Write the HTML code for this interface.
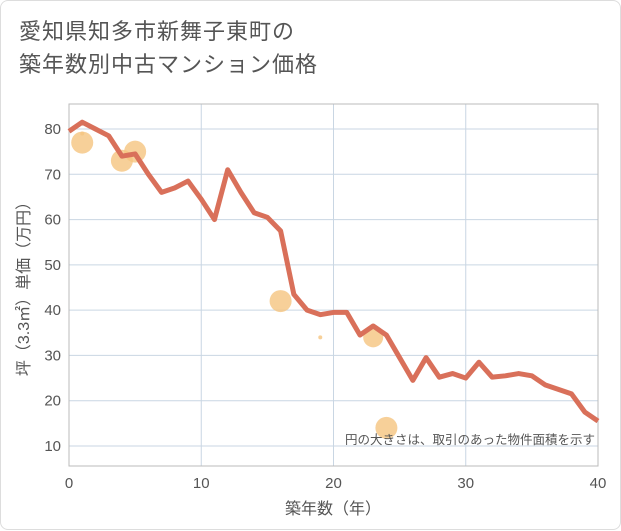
<!DOCTYPE html>
<html><head><meta charset="utf-8"><style>
body{margin:0;background:#fff;font-family:"Liberation Sans","Noto Sans CJK JP",sans-serif}
#card{position:absolute;left:0;top:0;width:619px;height:528px;border:1px solid #ddd;border-radius:8px;background:#fff}
#title{position:absolute;left:18px;top:14px;font-size:22px;line-height:33px;color:#555;letter-spacing:1px}
</style></head><body>
<div id="card">
<div id="title">愛知県知多市新舞子東町の<br>築年数別中古マンション価格</div>
<svg id="chart" width="621" height="530" style="position:absolute;left:0;top:0"></svg>
</div>
<script>
const xTicks=[0,10,20,30,40];
const yTicks=[10,20,30,40,50,60,70,80];
const lineYears=[0,1,2,3,4,5,6,7,8,9,10,11,12,13,14,15,16,17,18,19,20,21,22,23,24,25,26,27,28,29,30,31,32,33,34,35,36,37,38,39,40];
const linePrices=[79.5,81.5,80,78.5,74,74.5,70,66,67,68.5,64.5,60,71,66,61.5,60.5,57.5,43.5,40,39,39.5,39.5,34.5,36.5,34.5,29.5,24.5,29.5,25.2,26,25,28.5,25.2,25.5,26,25.5,23.5,22.5,21.5,17.5,15.5];
const bubbleYears=[1,1,4,5,16,19,23,24];
const bubblePrices=[77,79,73,75,42,34,34,14];
const bubbleSizes=[11,2,11,11,11,2,10,11];
const L=68,R=597,T=103,B=465;
const xs=v=>L+(v-0)/40*(R-L);
const ys=v=>445-(v-10)/70*(445-128);
const svg=document.getElementById('chart');const NS='http://www.w3.org/2000/svg';
function mk(t,a,p){const e=document.createElementNS(NS,t);for(const k in a)e.setAttribute(k,a[k]);(p||svg).appendChild(e);return e;}
let e;
e=mk('rect',{x:L,y:T,width:R-L,height:B-T,fill:'#fff',stroke:'#bbb'});


xTicks.forEach(v=>{
 e=mk('line',{x1:xs(v),x2:xs(v),y1:T,y2:B,stroke:'#c9d6e3'});
 
 
 e=mk('text',{x:xs(v),y:B+22,'text-anchor':'middle','font-size':15,fill:'#555'});e.textContent=v;
 
 
});
yTicks.forEach(v=>{
 e=mk('line',{x1:L,x2:R,y1:ys(v),y2:ys(v),stroke:'#c9d6e3'});
 
 
 e=mk('text',{x:L-8,y:ys(v)+5,'text-anchor':'end','font-size':15,fill:'#555'});e.textContent=v;
 
 
});
mk('rect',{x:L,y:T,width:R-L,height:B-T,fill:'none',stroke:'#bbb'});
bubbleYears.forEach((yr,i)=>{
 e=mk('circle',{cx:xs(yr),cy:ys(bubblePrices[i]),r:bubbleSizes[i],fill:'#f5c47f','fill-opacity':0.8});
 
 
});
e=mk('polyline',{points:lineYears.map((y,i)=>xs(y)+','+ys(linePrices[i])).join(' '),fill:'none',stroke:'#d9705a','stroke-width':5,'stroke-linejoin':'round'});


e=mk('text',{x:594,y:443,'text-anchor':'end','font-size':12.5,fill:'#555'});e.textContent='円の大きさは、取引のあった物件面積を示す';


e=mk('text',{x:332,y:513,'text-anchor':'middle','font-size':16,fill:'#555'});e.textContent='築年数（年）';


e=mk('text',{x:0,y:0,'text-anchor':'middle','font-size':16,fill:'#555',transform:'translate(28,284) rotate(-90)'});e.textContent='坪（3.3㎡）単価（万円）';


</script>
</body></html>
